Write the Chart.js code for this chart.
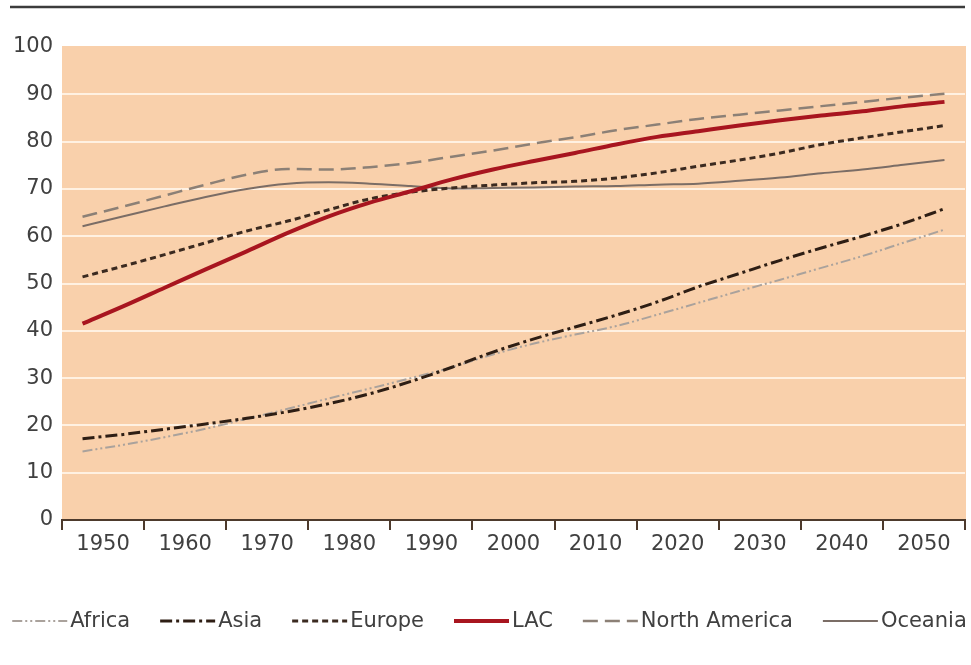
<!DOCTYPE html>
<html>
<head>
<meta charset="utf-8">
<script src="https://cdn.jsdelivr.net/npm/chart.js@4/dist/chart.umd.min.js"></script>
<style>
  html, body { margin: 0; padding: 0; background: #ffffff; }
  #wrap { width: 971px; height: 665px; position: relative; }
</style>
</head>
<body>
<div id="wrap"><canvas id="c" width="971" height="665"></canvas></div>
<script>
// Five-year points, 1950 to 2055
const years = ['1950','1955','1960','1965','1970','1975','1980','1985','1990','1995','2000',
               '2005','2010','2015','2020','2025','2030','2035','2040','2045','2050','2055'];
// Decade labels on the axis
const decadeLabels = ['1950','1960','1970','1980','1990','2000','2010','2020','2030','2040','2050'];
const yTicks = [0,10,20,30,40,50,60,70,80,90,100];

// Urban population share (%) by region
const africa       = [14.5, 15.9, 17.5, 19.3, 21.4, 23.5, 25.7, 27.8, 30.0, 32.3, 35.0, 37.3, 39.2, 41.0, 43.4, 45.9, 48.4, 50.8, 53.3, 55.8, 58.6, 61.4];
const asia         = [17.2, 18.1, 19.2, 20.3, 21.5, 22.9, 24.6, 26.7, 29.3, 32.3, 35.5, 38.3, 40.8, 43.3, 46.1, 49.3, 52.1, 54.9, 57.5, 60.0, 62.7, 65.8];
const europe       = [51.4, 53.7, 56.1, 58.6, 61.1, 63.2, 65.6, 67.9, 69.3, 70.2, 70.8, 71.3, 71.6, 72.3, 73.4, 74.8, 76.1, 77.6, 79.4, 80.8, 82.1, 83.4];
const lac          = [41.5, 45.2, 49.1, 53.0, 56.8, 60.7, 64.2, 67.1, 69.5, 72.0, 74.1, 75.9, 77.6, 79.4, 81.0, 82.2, 83.4, 84.5, 85.5, 86.4, 87.5, 88.4];
const northAmerica = [64.1, 66.3, 68.6, 70.9, 73.0, 74.2, 74.1, 74.6, 75.5, 76.8, 78.1, 79.6, 80.9, 82.4, 83.6, 84.8, 85.7, 86.6, 87.5, 88.4, 89.3, 90.1];
const oceania      = [62.1, 64.2, 66.3, 68.3, 70.0, 71.1, 71.4, 71.1, 70.6, 70.1, 70.2, 70.3, 70.5, 70.6, 70.9, 71.1, 71.7, 72.4, 73.3, 74.1, 75.1, 76.1];

const FONT = '"DejaVu Sans", sans-serif';
const TEXT = '#404040';
const AXIS = '#4d3a2c';
const PANEL = '#f9d0ab';
const GRID = '#fff1e2';

Chart.defaults.font.family = FONT;
Chart.defaults.font.size = 21;
Chart.defaults.color = TEXT;

// Peach panel behind the plot and rule across the top
const panel = {
  id: 'panel',
  beforeDraw(chart) {
    const { ctx, chartArea: a } = chart;
    ctx.save();
    ctx.fillStyle = PANEL;
    ctx.fillRect(a.left, a.top - 1, a.right - a.left + 1, a.bottom - a.top + 1);
    ctx.strokeStyle = '#3c3c3c';
    ctx.lineWidth = 2.5;
    ctx.beginPath();
    ctx.moveTo(10, 7);
    ctx.lineTo(a.right, 7);
    ctx.stroke();
    ctx.restore();
  }
};

// Key below the chart: line sample followed by label
const lineKey = {
  id: 'lineKey',
  afterDraw(chart) {
    const ctx = chart.ctx;
    ctx.save();
    ctx.font = '21px ' + FONT;
    const sw = 55, gap = 3, itemGap = 30, y = 621;
    const items = chart.data.datasets.map(ds => ({ ds, w: ctx.measureText(ds.label).width }));
    const total = items.reduce((s, it) => s + sw + gap + it.w, 0) + itemGap * (items.length - 1);
    let x = 489.5 - total / 2;
    items.forEach(({ ds, w }) => {
      ctx.strokeStyle = ds.borderColor;
      ctx.lineWidth = ds.borderWidth;
      ctx.setLineDash(ds.borderDash || []);
      ctx.beginPath();
      ctx.moveTo(x, y);
      ctx.lineTo(x + sw, y);
      ctx.stroke();
      ctx.setLineDash([]);
      ctx.fillStyle = TEXT;
      ctx.textBaseline = 'middle';
      ctx.textAlign = 'left';
      ctx.fillText(ds.label, x + sw + gap, y + 1);
      x += sw + gap + w + itemGap;
    });
    ctx.restore();
  }
};

function series(label, data, color, width, dash, order) {
  return {
    label, data,
    borderColor: color,
    backgroundColor: color,
    borderWidth: width,
    borderDash: dash,
    pointRadius: 0,
    pointHoverRadius: 0,
    cubicInterpolationMode: 'monotone',
    fill: false,
    order
  };
}

new Chart(document.getElementById('c'), {
  type: 'line',
  data: {
    labels: years,
    datasets: [
      series('Africa', africa, '#aaa29c', 2, [10, 3, 2, 3, 2, 3], 2),
      series('Asia', asia, '#2e1e14', 3, [12, 4, 3, 4], 1),
      series('Europe', europe, '#3b2a20', 3, [6, 4], 1),
      series('LAC', lac, '#a8151f', 4, [], 0),
      series('North America', northAmerica, '#8c8076', 2.5, [15, 7], 1),
      series('Oceania', oceania, '#7b6d66', 2, [], 1)
    ]
  },
  options: {
    responsive: false,
    animation: false,
    devicePixelRatio: 1,
    layout: { padding: { left: 0, right: 6, top: 47, bottom: 105 } },
    plugins: {
      legend: { display: false },
      tooltip: { enabled: false }
    },
    scales: {
      x: {
        type: 'category',
        display: false,
        offset: true
      },
      decades: {
        type: 'category',
        position: 'bottom',
        labels: decadeLabels,
        offset: true,
        grid: {
          offset: true,
          drawOnChartArea: false,
          drawTicks: true,
          tickLength: 10,
          color: AXIS,
          lineWidth: 2
        },
        border: { display: true, color: AXIS, width: 2 },
        ticks: { padding: 2, maxRotation: 0, autoSkip: false, color: TEXT, font: { size: 21 } },
        afterFit(scale) { scale.height = 40; }
      },
      y: {
        min: 0,
        max: 100,
        afterBuildTicks(scale) { scale.ticks = yTicks.map(v => ({ value: v })); },
        grid: {
          drawTicks: false,
          lineWidth: 2,
          color: ctx => (ctx.tick && (ctx.tick.value === 0 || ctx.tick.value === 100)) ? 'rgba(0,0,0,0)' : GRID
        },
        border: { display: false },
        ticks: { padding: 9, color: TEXT, font: { size: 21 } },
        afterFit(scale) { scale.width = 62; }
      }
    }
  },
  plugins: [panel, lineKey]
});
</script>
</body>
</html>
